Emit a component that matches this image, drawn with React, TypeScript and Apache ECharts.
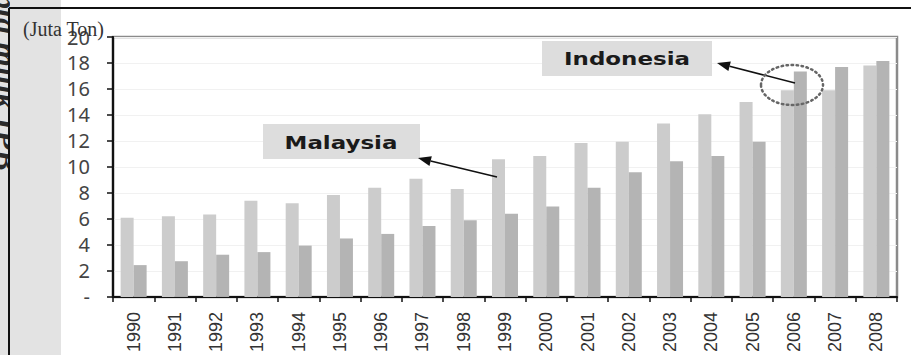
import React, { useEffect, useRef } from "react";
import * as echarts from "echarts";

const years = ["1990","1991","1992","1993","1994","1995","1996","1997","1998","1999","2000","2001","2002","2003","2004","2005","2006","2007","2008"];
const malaysia = [6.1, 6.2, 6.35, 7.4, 7.2, 7.85, 8.4, 9.1, 8.3, 10.6, 10.85, 11.85, 11.95, 13.35, 14.05, 15.0, 15.9, 15.9, 17.8];
const indonesia = [2.45, 2.75, 3.25, 3.45, 3.95, 4.5, 4.85, 5.45, 5.9, 6.4, 6.95, 8.4, 9.6, 10.45, 10.85, 11.95, 17.35, 17.7, 18.15];
const yTicks = { min: 0, max: 20, interval: 2 };
const unitLabel = "(Juta Ton)";
const seriesNames = ["Malaysia", "Indonesia"];

function arrow(x1: number, y1: number, x2: number, y2: number) {
  const ang = Math.atan2(y2 - y1, x2 - x1);
  const L = 13, W = 5;
  const bx = x2 - L * Math.cos(ang), by = y2 - L * Math.sin(ang);
  const px = -Math.sin(ang) * W, py = Math.cos(ang) * W;
  return [
    { type: "line", shape: { x1, y1, x2: bx, y2: by }, style: { stroke: "#111", lineWidth: 1.6 }, z: 20 },
    { type: "polygon", shape: { points: [[x2, y2], [bx + px, by + py], [bx - px, by - py]] }, style: { fill: "#111" }, z: 20 },
  ];
}

export default function App() {
  const ref = useRef<HTMLDivElement>(null);
  useEffect(() => {
    const chart = echarts.init(ref.current!, null, { renderer: "svg" });
    chart.setOption({
      animation: false,
      backgroundColor: "#ffffff",
      grid: { left: 113, right: 14, top: 37, bottom: 52, show: true, borderColor: "#8a8a8a", borderWidth: 2.5, backgroundColor: "transparent" },
      xAxis: {
        type: "category",
        data: years,
        axisLine: { lineStyle: { color: "#111", width: 2 } },
        axisTick: { show: true, length: 5, lineStyle: { color: "#111", width: 1.5 }, interval: 0 },
        axisLabel: {
          rotate: 90, interval: 0, margin: 15, color: "#333",
          fontFamily: "'Liberation Sans Narrow', 'Arial Narrow', sans-serif", fontSize: 18,
          padding: [9, 0, 0, 0],
        },
      },
      yAxis: {
        type: "value",
        min: yTicks.min, max: yTicks.max, interval: yTicks.interval,
        axisLine: { show: true, lineStyle: { color: "#111", width: 2.2 } },
        axisTick: { show: true, length: 6, lineStyle: { color: "#111", width: 1.5 } },
        axisLabel: {
          margin: 23, color: "#444", fontFamily: "'Noto Sans', sans-serif", fontSize: 20,
          formatter: (v: number) => (v === 0 ? "-" : String(v)),
        },
        splitLine: { lineStyle: { color: "#f1f1f1", width: 1 } },
      },
      series: [
        { name: seriesNames[0], type: "bar", data: malaysia, barGap: "0%", barCategoryGap: "37%", itemStyle: { color: "#cccccc" } },
        { name: seriesNames[1], type: "bar", data: indonesia, barGap: "0%", barCategoryGap: "37%", itemStyle: { color: "#b4b4b4" } },
      ],
      graphic: [
        { type: "rect", shape: { x: 0, y: 0, width: 61, height: 355 }, style: { fill: "#e3e3e3" }, z: 0, silent: true },
        {
          type: "text", x: 22, y: -30, rotation: -Math.PI / 2,
          style: { text: "cipta milik IPB", fill: "#2a2a2a", font: "italic bold 32px 'Liberation Serif', serif", verticalAlign: "top", align: "left" },
          z: 1,
        },
        { type: "rect", shape: { x: 10, y: 0, width: 51, height: 355 }, style: { fill: "#e3e3e3" }, z: 2, silent: true },
        { type: "line", shape: { x1: 9, y1: 8, x2: 9, y2: 355 }, style: { stroke: "#111", lineWidth: 2 }, z: 5 },
        { type: "line", shape: { x1: 9, y1: 8, x2: 911, y2: 8 }, style: { stroke: "#111", lineWidth: 2 }, z: 5 },
        { type: "text", x: 23, y: 29, style: { text: unitLabel, fill: "#333", font: "20px 'Liberation Serif', serif", verticalAlign: "middle", align: "left" }, z: 30 },
        { type: "rect", shape: { x: 263, y: 124, width: 157, height: 35 }, style: { fill: "#dddddd" }, z: 10 },
        { type: "text", x: 341, y: 143, scaleX: 1.35, style: { text: seriesNames[0], fill: "#1a1a1a", font: "bold 17px 'DejaVu Sans', sans-serif", align: "center", verticalAlign: "middle" }, z: 11 },
        { type: "rect", shape: { x: 542, y: 41, width: 170, height: 35 }, style: { fill: "#dddddd" }, z: 10 },
        { type: "text", x: 627, y: 59, scaleX: 1.35, style: { text: seriesNames[1], fill: "#1a1a1a", font: "bold 17px 'DejaVu Sans', sans-serif", align: "center", verticalAlign: "middle" }, z: 11 },
        ...arrow(497, 177, 418, 158),
        ...arrow(795, 83, 717, 63),
        { type: "ellipse", shape: { cx: 792, cy: 85, rx: 31, ry: 20 }, style: { fill: "none", stroke: "#666", lineWidth: 2.5, lineDash: [1.5, 3.5], lineCap: "round" }, z: 21 },
      ],
    });
    return () => chart.dispose();
  }, []);
  return <div ref={ref} style={{ position: "fixed", left: 0, top: 0, width: 911, height: 355 }} />;
}
